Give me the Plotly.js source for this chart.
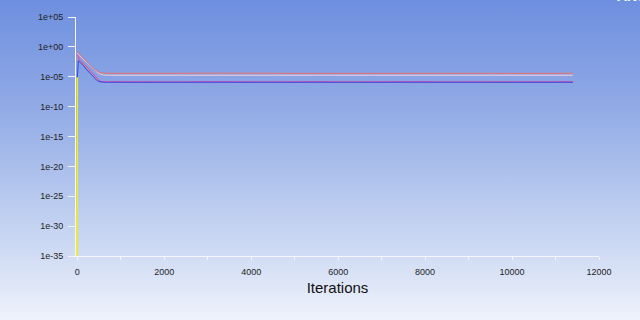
<!DOCTYPE html>
<html>
<head>
<meta charset="utf-8">
<script src="https://cdn.plot.ly/plotly-3.0.1.min.js"></script>
<style>
  html, body { margin: 0; padding: 0; width: 640px; height: 320px; overflow: hidden;
    background: linear-gradient(to bottom, #6e8fdf 0%, #93ace6 35%, #c3d2f1 70%, #eef2fb 100%); }
  #chart { width: 640px; height: 320px; }
</style>
</head>
<body>
<div id="chart"></div>
<script>
const iterations = [0, 25, 50, 100, 150, 200, 250, 300, 350, 400, 450, 500, 550, 600, 700,
  800, 1200, 1600, 2000, 2400, 2800, 3200, 3600, 4000, 4400, 4800, 5200, 5600, 6000, 6400,
  6800, 7200, 7600, 8000, 8400, 8800, 9200, 9600, 10000, 10400, 10800, 11200, 11400];

const continuity = [1.0e-1, 5.0e-2, 3.2e-2, 1.6e-2, 7.0e-3, 3.2e-3, 1.3e-3, 5.6e-4, 2.5e-4, 1.2e-4, 6.3e-5, 3.5e-5, 2.4e-5, 2.0e-5, 1.8e-5,
  1.8e-5, 1.9e-5, 1.7e-5, 1.8e-5, 2.0e-5, 1.8e-5, 1.7e-5, 1.9e-5, 1.8e-5, 1.8e-5, 2.0e-5, 1.7e-5, 1.8e-5, 1.9e-5,
  1.8e-5, 1.7e-5, 1.9e-5, 1.8e-5, 2.0e-5, 1.8e-5, 1.7e-5, 1.8e-5, 1.9e-5, 1.8e-5, 1.7e-5, 1.9e-5, 1.8e-5, 1.8e-5];
const xVelocity = [2.0e-1, 1.0e-1, 5.0e-2, 2.5e-2, 1.0e-2, 4.0e-3, 1.6e-3, 7.0e-4, 3.2e-4, 1.6e-4, 8.5e-5, 5.5e-5, 4.3e-5, 3.9e-5, 3.8e-5,
  3.8e-5, 3.6e-5, 3.9e-5, 3.7e-5, 3.8e-5, 4.0e-5, 3.7e-5, 3.6e-5, 3.8e-5, 3.9e-5, 3.7e-5, 3.8e-5, 3.6e-5, 3.9e-5,
  3.8e-5, 3.7e-5, 4.0e-5, 3.8e-5, 3.6e-5, 3.8e-5, 3.9e-5, 3.7e-5, 3.8e-5, 3.6e-5, 3.9e-5, 3.8e-5, 3.7e-5, 3.8e-5];
const yVelocity = [6.0e-2, 1.6e-2, 6.3e-3, 3.2e-3, 1.3e-3, 5.0e-4, 2.0e-4, 8.0e-5, 3.2e-5, 1.3e-5, 5.0e-6, 2.5e-6, 1.6e-6, 1.4e-6, 1.35e-6,
  1.4e-6, 1.3e-6, 1.4e-6, 1.35e-6, 1.3e-6, 1.45e-6, 1.3e-6, 1.4e-6, 1.35e-6, 1.3e-6, 1.4e-6, 1.35e-6, 1.45e-6, 1.3e-6,
  1.4e-6, 1.35e-6, 1.3e-6, 1.4e-6, 1.45e-6, 1.3e-6, 1.35e-6, 1.4e-6, 1.3e-6, 1.4e-6, 1.35e-6, 1.45e-6, 1.3e-6, 1.4e-6];
const energy = [3.0e-2, 1.0e-2, 5.0e-3, 2.5e-3, 1.0e-3, 4.0e-4, 1.6e-4, 6.3e-5, 2.5e-5, 1.0e-5, 4.0e-6, 2.2e-6, 1.5e-6, 1.3e-6, 1.3e-6,
  1.3e-6, 1.25e-6, 1.35e-6, 1.3e-6, 1.25e-6, 1.3e-6, 1.35e-6, 1.25e-6, 1.3e-6, 1.35e-6, 1.25e-6, 1.3e-6, 1.3e-6, 1.35e-6,
  1.25e-6, 1.3e-6, 1.35e-6, 1.25e-6, 1.3e-6, 1.3e-6, 1.35e-6, 1.25e-6, 1.3e-6, 1.35e-6, 1.25e-6, 1.3e-6, 1.35e-6, 1.3e-6];
const zVelocity = [6.0e-6, 5.0e-3, 3.2e-3, 1.6e-3, 6.3e-4, 2.0e-4, 8.0e-5, 3.2e-5, 1.3e-5, 5.0e-6, 2.5e-6, 1.6e-6, 1.3e-6, 1.2e-6, 1.2e-6,
  1.2e-6, 1.25e-6, 1.2e-6, 1.15e-6, 1.2e-6, 1.25e-6, 1.2e-6, 1.2e-6, 1.15e-6, 1.25e-6, 1.2e-6, 1.2e-6, 1.15e-6, 1.2e-6,
  1.25e-6, 1.2e-6, 1.2e-6, 1.15e-6, 1.25e-6, 1.2e-6, 1.2e-6, 1.15e-6, 1.2e-6, 1.25e-6, 1.2e-6, 1.2e-6, 1.15e-6, 1.2e-6];
const kIter = [0, 0];
const kValues = [8.0e-6, 1.0e-35];

const xTicks = [0, 2000, 4000, 6000, 8000, 10000, 12000];
const yTickVals = [1e5, 1e0, 1e-5, 1e-10, 1e-15, 1e-20, 1e-25, 1e-30, 1e-35];
const yTickText = ['1e+05', '1e+00', '1e-05', '1e-10', '1e-15', '1e-20', '1e-25', '1e-30', '1e-35'];

function tr(name, x, y, color, w) {
  return { type: 'scatter', mode: 'lines', name: name, x: x, y: y,
    line: { color: color, width: w || 1 }, hoverinfo: 'skip' };
}

const data = [
  tr('continuity', iterations, continuity, '#f3cfd8'),
  tr('x-velocity', iterations, xVelocity, '#e8706e'),
  tr('energy', iterations, energy, '#f0a040'),
  tr('y-velocity', iterations, yVelocity, '#e040b8'),
  tr('z-velocity', iterations, zVelocity, '#2f45f2'),
  tr('k', kIter, kValues, '#f2f000', 1.5)
];

const tickFont = { family: 'Liberation Sans, Arial, sans-serif', size: 9, color: '#1e1e1e' };

const layout = {
  width: 640, height: 320,
  margin: { l: 76, r: 41, t: 17, b: 64 },
  paper_bgcolor: 'rgba(0,0,0,0)',
  plot_bgcolor: 'rgba(0,0,0,0)',
  showlegend: false,
  xaxis: {
    range: [-30, 12000],
    tickvals: xTicks,
    ticktext: xTicks.map(String),
    showgrid: false, zeroline: false,
    showline: true, linecolor: '#f4f6fc', linewidth: 1,
    layer: 'below traces',
    ticks: 'outside', ticklen: 3, tickcolor: '#f4f6fc',
    minor: { ticks: 'outside', dtick: 1000, ticklen: 3, tickcolor: '#f4f6fc' },
    tickfont: tickFont,
    ticklabelstandoff: 4,
    title: { text: 'Iterations', font: { family: 'Liberation Sans, Arial, sans-serif', size: 15, color: '#111' }, standoff: 6 }
  },
  yaxis: {
    type: 'log',
    range: [-35, 5],
    tickvals: yTickVals,
    ticktext: yTickText,
    showgrid: false, zeroline: false,
    showline: true, linecolor: '#f4f6fc', linewidth: 1,
    layer: 'below traces',
    ticks: 'outside', ticklen: 7, tickcolor: '#f4f6fc', tickwidth: 1,
    tickfont: tickFont,
    ticklabelstandoff: 3
  },
  annotations: [{
    xref: 'paper', yref: 'paper', x: 1.03, y: 1.045, xanchor: 'left', yanchor: 'bottom',
    text: '<b>ANSYS</b>', showarrow: false,
    font: { family: 'Liberation Sans, Arial, sans-serif', size: 14, color: '#ffffff' }
  }]
};

Plotly.newPlot('chart', data, layout, { staticPlot: true, displayModeBar: false });
</script>
</body>
</html>
